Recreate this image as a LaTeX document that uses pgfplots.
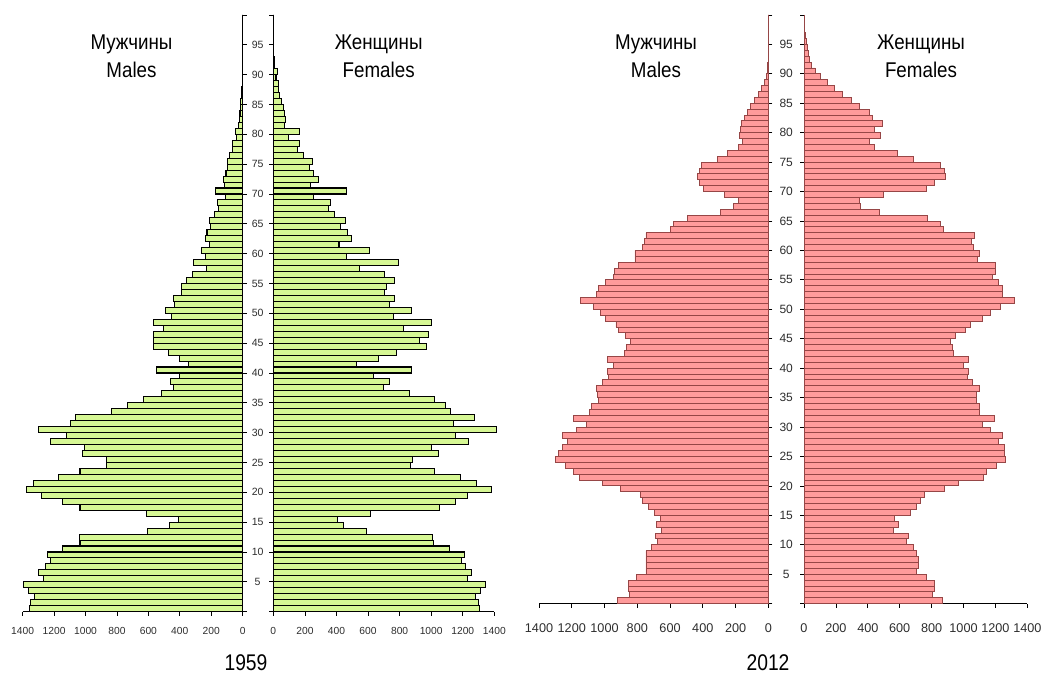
\documentclass[border=0pt]{standalone}
\usepackage{fontspec}
\setmainfont{Liberation Sans}
\usepackage{graphicx}
\usepackage{pgfplots}
\usepackage{pgfplotstable}
\pgfplotsset{compat=1.18}

\definecolor{g59}{RGB}{214,247,148}
\definecolor{r12}{RGB}{255,155,155}
\definecolor{r12d}{RGB}{150,70,70}
\definecolor{tl}{RGB}{45,45,45}

\pgfplotstableread{
age m59 f59 m12 f12
0 1357 1308 920 869
1 1348 1300 849 807
2 1327 1283 855 815
3 1362 1312 853 815
4 1395 1342 804 769
5 1268 1232 747 706
6 1297 1253 747 715
7 1255 1220 747 715
8 1225 1194 747 706
9 1242 1211 716 686
10 1149 1114 674 640
11 1035 1017 690 656
12 1039 1009 653 560
13 606 591 682 589
14 466 447 659 568
15 411 405 698 665
16 611 616 731 702
17 1035 1051 767 732
18 1145 1156 783 752
19 1280 1232 902 878
20 1378 1380 1011 968
21 1331 1287 1154 1124
22 1170 1186 1188 1145
23 1035 1021 1239 1208
24 865 869 1302 1262
25 865 882 1284 1254
26 1018 1047 1254 1254
27 1005 1004 1225 1221
28 1225 1236 1256 1246
29 1119 1152 1174 1170
30 1302 1414 1113 1116
31 1098 1144 1190 1191
32 1064 1274 1093 1099
33 835 1120 1077 1099
34 730 1089 1036 1078
35 632 1019 1042 1083
36 515 863 1048 1099
37 441 696 1011 1053
38 462 734 977 1024
39 403 637 983 1030
40 547 878 946 999
41 343 528 983 1032
42 403 669 879 936
43 471 781 865 928
44 566 971 840 915
45 566 924 871 949
46 566 983 912 1012
47 505 823 930 1041
48 566 1002 997 1116
49 454 760 1022 1166
50 490 874 1068 1229
51 432 736 1144 1321
52 441 770 1048 1241
53 392 703 1034 1241
54 388 717 997 1221
55 360 766 946 1183
56 318 707 938 1200
57 233 546 916 1200
58 312 791 814 1087
59 237 464 814 1099
60 261 610 767 1062
61 210 416 757 1049
62 235 498 747 1066
63 227 471 600 874
64 204 426 578 857
65 214 456 496 776
66 181 385 295 474
67 155 350 214 352
68 161 362 183 345
69 110 253 265 500
70 174 465 397 765
71 114 236 420 820
72 123 286 435 886
73 106 257 418 882
74 97 230 408 855
75 95 251 309 685
76 81 191 249 588
77 66 152 183 443
78 64 163 155 412
79 42 96 176 478
80 47 165 173 443
81 25 70 163 489
82 21 78 148 426
83 17 68 129 412
84 13 64 110 345
85 11 50 83 299
86 8 37 62 240
87 6 30 42 192
88 4 34 24 146
89 3 17 14 103
90 2 25 7 71
91 1 8 3 49
92 1 4 2 32
93 1 3 1 30
94 1 2 1 22
95 1 1 1 15
96 1 1 0 10
97 0 1 0 5
98 0 0 0 3
99 0 0 0 2
}\pop

\pgfplotsset{
  pyr/.style={
    scale only axis, anchor=south west, enlargelimits=false, clip=false,
    ymin=0, ymax=100, ytick={0,5,...,100}, yticklabels={},
    tick align=outside, major tick length=3pt,
    axis x line*=bottom,
    axis line style={-, black, line width=0.6pt},
    tick style={black, line width=0.6pt},
    /pgf/number format/assume math mode=true,
  },
  t59/.style={ticklabel style={font=\fontsize{7.7}{9}\selectfont, text=tl},
    xticklabel style={yshift=-5pt}},
  t12/.style={ticklabel style={font=\fontsize{9.5}{11}\selectfont, text=tl},
    xticklabel style={yshift=-8.5pt}},
}

\newcommand{\bigt}[1]{\fontsize{16}{19}\selectfont\scalebox{0.88}[1]{#1}}

\begin{document}
\begin{tikzpicture}
\useasboundingbox (0,0) rectangle (784.5pt,504.75pt);

% ---------- 1959 males ----------
\begin{axis}[pyr, t59, at={(17pt,46pt)}, width=165pt, height=447.5pt,
  xmin=-1400, xmax=0, xtick={-1400,-1200,...,0},
  xticklabels={1400,1200,1000,800,600,400,200,0}, axis y line*=right]
\addplot[xbar, bar width=1, fill=g59, draw=black, line width=0.8pt]
  table[x expr=-\thisrow{m59}, y expr=\thisrow{age}+0.5]{\pop};
\pgfplotsinvokeforeach{5,10,...,95}{\node[font=\fontsize{7.9}{9}\selectfont, text=tl] at (axis cs:95.5,#1) {#1};}
\end{axis}

% ---------- 1959 females ----------
\begin{axis}[pyr, t59, at={(205pt,46pt)}, width=165.75pt, height=447.5pt,
  xmin=0, xmax=1400, xtick={0,200,...,1400},
  xticklabels={0,200,400,600,800,1000,1200,1400}, axis y line*=left]
\addplot[xbar, bar width=1, fill=g59, draw=black, line width=0.8pt]
  table[x=f59, y expr=\thisrow{age}+0.5]{\pop};
\end{axis}

% ---------- 2012 males ----------
\begin{axis}[pyr, t12, at={(404.25pt,52pt)}, width=172pt, height=441.5pt,
  xmin=-1400, xmax=0, xtick={-1400,-1200,...,0},
  xticklabels={1400,1200,1000,800,600,400,200,0}, axis y line*=right]
\addplot[xbar, bar width=1, fill=r12, draw=r12d, line width=0.7pt]
  table[x expr=-\thisrow{m12}, y expr=\thisrow{age}+0.5]{\pop};
\pgfplotsinvokeforeach{5,10,...,95}{\node[font=\fontsize{9}{10}\selectfont, text=tl] at (axis cs:109,#1) {#1};}
\end{axis}

% ---------- 2012 females ----------
\begin{axis}[pyr, t12, at={(603pt,52pt)}, width=167.5pt, height=441.5pt,
  xmin=0, xmax=1400, xtick={0,200,...,1400},
  xticklabels={0,200,400,600,800,1000,1200,1400}, axis y line*=left]
\addplot[xbar, bar width=1, fill=r12, draw=r12d, line width=0.7pt]
  table[x=f12, y expr=\thisrow{age}+0.5]{\pop};
\end{axis}

% ---------- titles ----------
\node[anchor=base] at (98.6pt,467.8pt) {\bigt{Мужчины}};
\node[anchor=base] at (98.6pt,446.8pt) {\bigt{Males}};
\node[anchor=base] at (284pt,467.8pt) {\bigt{Женщины}};
\node[anchor=base] at (284pt,446.8pt) {\bigt{Females}};
\node[anchor=base] at (492pt,467.8pt) {\bigt{Мужчины}};
\node[anchor=base] at (492pt,446.8pt) {\bigt{Males}};
\node[anchor=base] at (690.75pt,467.8pt) {\bigt{Женщины}};
\node[anchor=base] at (690.75pt,446.8pt) {\bigt{Females}};
\node[anchor=base] at (184.5pt,2pt) {\fontsize{17}{20}\selectfont\scalebox{0.85}[1]{1959}};
\node[anchor=base] at (576pt,2pt) {\fontsize{17}{20}\selectfont\scalebox{0.85}[1]{2012}};
\end{tikzpicture}
\end{document}
